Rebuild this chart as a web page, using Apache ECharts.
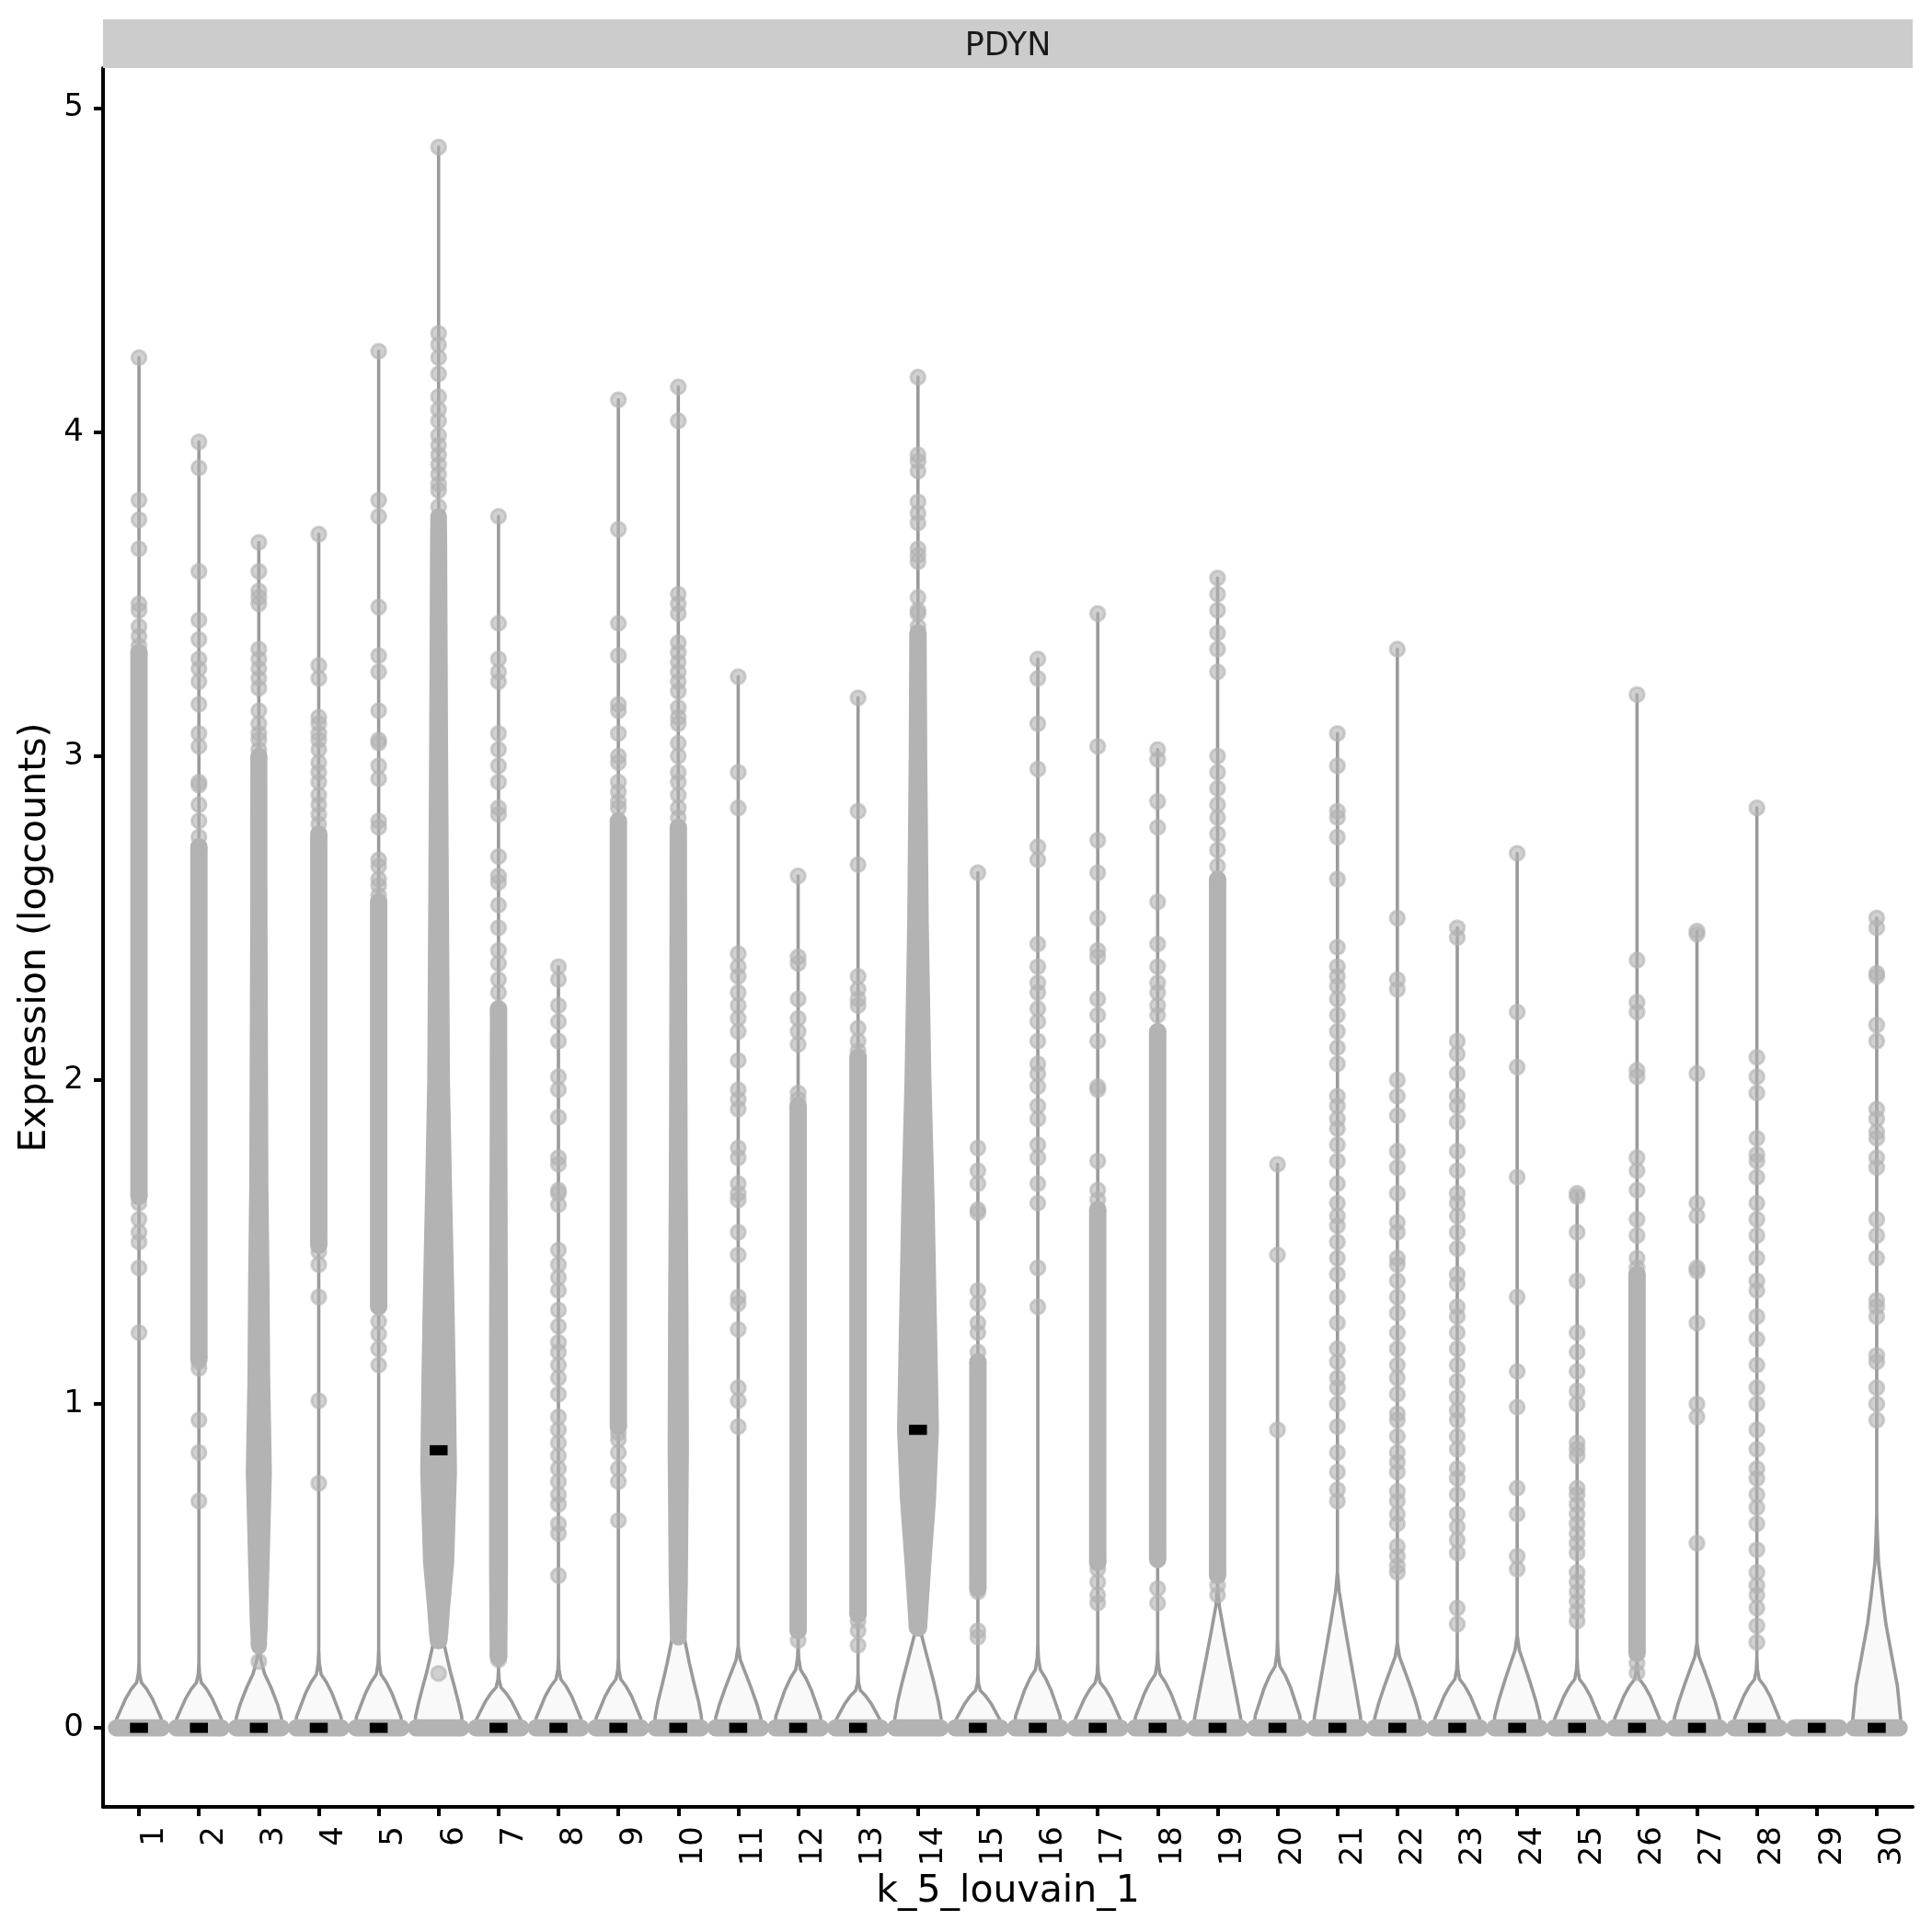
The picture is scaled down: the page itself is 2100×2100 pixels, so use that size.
<!DOCTYPE html>
<html><head><meta charset="utf-8">
<script src="https://cdn.jsdelivr.net/npm/echarts@6/dist/echarts.min.js"></script>
<style>html,body{margin:0;padding:0;background:#fff}#c{width:2100px;height:2100px}</style>
</head><body><div id="c"></div><script>
// ---------------- DATA ----------------
const categories = ['1','2','3','4','5','6','7','8','9','10','11','12','13','14','15','16','17','18','19','20','21','22','23','24','25','26','27','28','29','30'];
const yTicks = [0, 1, 2, 3, 4, 5];
const stripLabel = 'PDYN';
const xTitle = 'k_5_louvain_1';
const yTitle = 'Expression (logcounts)';

// median expression per cluster (black bars)
const medians = [0,0,0,0,0,0.857,0,0,0,0,0,0,0,0.92,0,0,0,0,0,0,0,0,0,0,0,0,0,0,0,0];

// individually visible non-zero cells (logcounts) per cluster
const cellValues = [
 [4.23,3.79,3.73,3.64,3.47,3.45,3.40,3.37,3.34,1.62,1.57,1.53,1.50,1.42,1.22],
 [3.97,3.89,3.57,3.42,3.36,3.30,3.27,3.23,3.16,3.07,3.03,2.92,2.91,2.85,2.80,2.75,1.13,1.11,0.95,0.85,0.70],
 [3.66,3.57,3.51,3.49,3.47,3.33,3.30,3.27,3.24,3.21,3.14,3.10,3.07,3.05,3.02,0.26,0.205],
 [3.685,3.28,3.24,3.12,3.10,3.07,3.05,3.02,2.98,2.95,2.92,2.88,2.85,2.82,2.79,1.47,1.43,1.33,1.01,0.755],
 [4.25,3.79,3.74,3.46,3.31,3.26,3.14,3.05,3.04,2.97,2.93,2.80,2.78,2.68,2.66,2.62,2.60,2.57,1.255,1.216,1.17,1.12],
 [4.88,4.305,4.27,4.23,4.18,4.11,4.07,4.035,3.99,3.96,3.93,3.90,3.87,3.84,3.82,3.77,0.27,0.168],
 [3.74,3.41,3.30,3.26,3.23,3.07,3.02,2.97,2.92,2.84,2.82,2.69,2.63,2.61,2.54,2.47,2.40,2.36,2.31,2.27,2.20,0.23,0.21],
 [2.35,2.31,2.23,2.18,2.12,2.01,1.97,1.885,1.76,1.74,1.66,1.65,1.615,1.475,1.43,1.39,1.35,1.29,1.24,1.19,1.16,1.12,1.08,1.03,0.96,0.92,0.88,0.84,0.80,0.76,0.72,0.69,0.63,0.60,0.47],
 [4.10,3.70,3.41,3.31,3.16,3.14,3.07,3.00,2.98,2.92,2.89,2.86,2.84,0.91,0.89,0.85,0.80,0.76,0.64],
 [4.14,4.035,3.50,3.47,3.44,3.35,3.32,3.29,3.26,3.23,3.20,3.15,3.12,3.10,3.04,3.00,2.95,2.92,2.88,2.84,2.81,0.30],
 [3.245,2.95,2.84,2.39,2.35,2.32,2.27,2.23,2.19,2.15,2.06,1.97,1.94,1.91,1.79,1.76,1.68,1.65,1.63,1.53,1.46,1.33,1.31,1.23,1.05,1.01,0.93],
 [2.63,2.38,2.36,2.25,2.19,2.15,2.11,1.96,1.94,0.27],
 [3.18,2.83,2.665,2.32,2.28,2.25,2.23,2.16,2.12,2.09,0.33,0.30,0.255],
 [4.17,3.93,3.91,3.88,3.785,3.75,3.72,3.64,3.62,3.60,3.49,3.45,3.44,3.40,0.31],
 [2.64,1.79,1.72,1.68,1.60,1.59,1.35,1.31,1.25,1.22,1.16,0.42,0.30,0.28],
 [3.30,3.24,3.10,2.96,2.72,2.68,2.42,2.35,2.30,2.27,2.22,2.18,2.12,2.05,2.02,1.98,1.92,1.88,1.80,1.76,1.68,1.62,1.42,1.30],
 [3.44,3.03,2.74,2.64,2.50,2.40,2.38,2.25,2.20,2.12,1.98,1.97,1.75,1.66,1.63,0.49,0.45,0.41,0.385],
 [3.02,2.99,2.86,2.78,2.55,2.42,2.35,2.30,2.27,2.23,2.20,0.43,0.385],
 [3.55,3.50,3.45,3.38,3.33,3.26,3.00,2.95,2.90,2.85,2.81,2.76,2.71,2.66,0.44,0.41],
 [1.74,1.46,0.92],
 [3.07,2.97,2.83,2.81,2.75,2.62,2.41,2.35,2.32,2.29,2.25,2.20,2.15,2.10,2.05,1.95,1.92,1.88,1.85,1.80,1.75,1.68,1.62,1.58,1.55,1.50,1.45,1.40,1.33,1.25,1.17,1.13,1.08,1.05,1.00,0.93,0.85,0.79,0.735,0.70],
 [3.33,2.50,2.31,2.28,2.00,1.95,1.89,1.78,1.73,1.65,1.56,1.53,1.45,1.43,1.38,1.33,1.28,1.22,1.17,1.12,1.08,1.03,0.97,0.95,0.90,0.85,0.82,0.79,0.73,0.70,0.66,0.63,0.56,0.53,0.50,0.48],
 [2.47,2.44,2.12,2.08,2.02,1.95,1.92,1.87,1.78,1.72,1.65,1.62,1.58,1.53,1.48,1.40,1.37,1.30,1.27,1.22,1.17,1.12,1.07,1.02,0.98,0.95,0.90,0.86,0.80,0.77,0.72,0.66,0.62,0.58,0.54,0.37,0.32],
 [2.70,2.21,2.04,1.70,1.33,1.10,0.99,0.74,0.66,0.53,0.49],
 [1.65,1.64,1.53,1.38,1.22,1.16,1.10,1.04,1.00,0.88,0.86,0.84,0.74,0.72,0.69,0.66,0.63,0.60,0.57,0.54,0.48,0.45,0.42,0.39,0.36,0.33],
 [3.19,2.37,2.24,2.21,2.03,2.01,1.76,1.72,1.66,1.57,1.52,1.45,1.42,0.20,0.17],
 [2.46,2.45,2.02,1.62,1.58,1.42,1.41,1.25,1.00,0.96,0.57],
 [2.84,2.07,2.01,1.96,1.82,1.77,1.75,1.70,1.62,1.57,1.52,1.45,1.38,1.35,1.27,1.20,1.12,1.05,1.00,0.92,0.86,0.80,0.77,0.72,0.68,0.63,0.55,0.48,0.44,0.41,0.37,0.315,0.264],
 [],
 [2.50,2.47,2.33,2.32,2.17,2.12,1.91,1.88,1.84,1.82,1.76,1.73,1.57,1.52,1.45,1.32,1.30,1.27,1.15,1.13,1.05,1.00,0.95]
];

// densely packed cell runs: [value, half-width in category units]
const denseRuns = [
 [[[1.64,0.145],[3.32,0.145]]],
 [[[1.14,0.145],[2.72,0.145]]],
 [[[0.25,0.13],[0.32,0.15],[0.51,0.18],[0.79,0.218],[1.08,0.19],[1.36,0.18],[1.68,0.16],[2.49,0.145],[3.0,0.142]]],
 [[[1.49,0.145],[2.76,0.145]]],
 [[[1.30,0.145],[2.55,0.145]]],
 [[[0.27,0.15],[0.30,0.165],[0.366,0.19],[0.51,0.26],[0.79,0.307],[1.08,0.287],[1.36,0.26],[1.68,0.223],[2.0,0.19],[2.49,0.175],[3.04,0.158],[3.66,0.143],[3.74,0.138]]],
 [[[0.22,0.148],[0.5,0.158],[1.2,0.158],[1.9,0.147],[2.22,0.145]]],
 [],
 [[[0.93,0.145],[2.80,0.145]]],
 [[[0.28,0.14],[0.45,0.16],[0.86,0.178],[1.3,0.17],[1.68,0.158],[2.2,0.15],[2.78,0.145]]],
 [],
 [[[0.30,0.145],[1.92,0.145]]],
 [[[0.35,0.146],[2.07,0.146]]],
 [[[0.31,0.155],[0.385,0.18],[0.51,0.225],[0.70,0.30],[0.92,0.35],[1.17,0.325],[1.64,0.276],[2.0,0.225],[2.49,0.18],[3.0,0.155],[3.38,0.145]]],
 [[[0.43,0.145],[1.13,0.145]]],
 [],
 [[[0.51,0.145],[1.60,0.145]]],
 [[[0.52,0.145],[2.15,0.145]]],
 [[[0.47,0.145],[2.62,0.145]]],
 [],[],[],[],[],[],
 [[[0.23,0.145],[1.40,0.145]]],
 [],[],[],[]
];

// violin outline near zero: [value, half-width in category units]
const violinNecks = [
 [[0,0.385],[0.028,0.372],[0.056,0.305],[0.091,0.22],[0.119,0.13],[0.14,0.04],[0.168,0.01],[0.203,0]],
 [[0,0.385],[0.028,0.372],[0.056,0.305],[0.091,0.22],[0.119,0.13],[0.14,0.04],[0.168,0.01],[0.203,0]],
 [[0,0.388],[0.032,0.375],[0.074,0.31],[0.126,0.2],[0.167,0.095],[0.21,0.035],[0.252,0]],
 [[0,0.385],[0.033,0.372],[0.066,0.305],[0.107,0.22],[0.14,0.13],[0.165,0.04],[0.198,0.01],[0.239,0]],
 [[0,0.385],[0.033,0.372],[0.066,0.305],[0.107,0.22],[0.14,0.13],[0.165,0.04],[0.198,0.01],[0.239,0]],
 [[0,0.39],[0.035,0.385],[0.08,0.33],[0.13,0.26],[0.167,0.205],[0.21,0.15],[0.26,0.09],[0.3,0.05],[0.36,0]],
 [[0,0.385],[0.025,0.372],[0.05,0.305],[0.081,0.22],[0.106,0.13],[0.125,0.04],[0.15,0.01],[0.181,0]],
 [[0,0.385],[0.03,0.372],[0.06,0.305],[0.098,0.22],[0.128,0.13],[0.15,0.04],[0.18,0.01],[0.218,0]],
 [[0,0.385],[0.03,0.372],[0.06,0.305],[0.098,0.22],[0.128,0.13],[0.15,0.04],[0.18,0.01],[0.218,0]],
 [[0,0.39],[0.035,0.385],[0.08,0.34],[0.14,0.26],[0.2,0.185],[0.26,0.12],[0.32,0.06],[0.4,0]],
 [[0,0.388],[0.032,0.375],[0.074,0.31],[0.126,0.21],[0.172,0.115],[0.21,0.035],[0.252,0]],
 [[0,0.385],[0.036,0.372],[0.072,0.305],[0.117,0.22],[0.153,0.13],[0.18,0.04],[0.216,0.01],[0.261,0]],
 [[0,0.385],[0.023,0.372],[0.046,0.305],[0.075,0.22],[0.098,0.13],[0.115,0.04],[0.138,0.01],[0.167,0]],
 [[0,0.39],[0.03,0.385],[0.08,0.34],[0.14,0.265],[0.2,0.18],[0.25,0.11],[0.29,0.055],[0.34,0.02],[0.4,0]],
 [[0,0.385],[0.023,0.372],[0.046,0.305],[0.075,0.22],[0.098,0.13],[0.115,0.04],[0.138,0.01],[0.167,0]],
 [[0,0.385],[0.036,0.372],[0.072,0.305],[0.117,0.22],[0.153,0.13],[0.18,0.04],[0.216,0.01],[0.261,0]],
 [[0,0.385],[0.028,0.372],[0.056,0.305],[0.091,0.22],[0.119,0.13],[0.14,0.04],[0.168,0.01],[0.203,0]],
 [[0,0.385],[0.033,0.372],[0.066,0.305],[0.107,0.22],[0.14,0.13],[0.165,0.04],[0.198,0.01],[0.239,0]],
 [[0,0.39],[0.03,0.385],[0.113,0.3],[0.206,0.2],[0.293,0.11],[0.375,0.03],[0.431,0]],
 [[0,0.385],[0.038,0.372],[0.076,0.305],[0.124,0.22],[0.162,0.13],[0.19,0.04],[0.228,0.01],[0.276,0]],
 [[0,0.39],[0.034,0.385],[0.126,0.3],[0.231,0.2],[0.328,0.11],[0.42,0.03],[0.483,0]],
 [[0,0.388],[0.033,0.375],[0.077,0.31],[0.132,0.21],[0.18,0.115],[0.22,0.035],[0.264,0]],
 [[0,0.385],[0.03,0.372],[0.06,0.305],[0.098,0.22],[0.128,0.13],[0.15,0.04],[0.18,0.01],[0.218,0]],
 [[0,0.388],[0.036,0.375],[0.084,0.31],[0.144,0.21],[0.197,0.115],[0.24,0.035],[0.288,0]],
 [[0,0.385],[0.03,0.372],[0.06,0.305],[0.098,0.22],[0.128,0.13],[0.15,0.04],[0.18,0.01],[0.218,0]],
 [[0,0.385],[0.03,0.372],[0.06,0.305],[0.098,0.22],[0.128,0.13],[0.15,0.04],[0.18,0.01],[0.218,0]],
 [[0,0.388],[0.033,0.375],[0.077,0.31],[0.132,0.21],[0.18,0.115],[0.22,0.035],[0.264,0]],
 [[0,0.385],[0.03,0.372],[0.06,0.305],[0.098,0.22],[0.128,0.13],[0.15,0.04],[0.18,0.01],[0.218,0]],
 [],
 [[0,0.4],[0.026,0.4],[0.13,0.345],[0.22,0.253],[0.32,0.154],[0.41,0.092],[0.51,0.03],[0.6,0.01],[0.66,0]]
];

// ---------------- STYLE ----------------
const FONT = 'DejaVu Sans';
const CLOUD = '#b3b3b3';
const PT_R = 9.3;          // px radius of a cell marker (incl. outline)
const ZERO_SPREAD = 0.375; // quasirandom spread of zero cells, category units

const maxOf = i => {
  let m = 0;
  cellValues[i].forEach(v => { if (v > m) m = v; });
  denseRuns[i].forEach(s => s.forEach(p => { if (p[0] > m) m = p[0]; }));
  return m;
};

function renderViolin(params, api) {
  const i = params.dataIndex, k = i + 1;
  const neck = violinNecks[i];
  if (!neck.length) return null;
  const top = maxOf(i);
  const prof = neck.slice();
  if (top > prof[prof.length - 1][0]) prof.push([top, 0]);
  const left = prof.map(p => api.coord([k - p[1], p[0]]));
  const right = prof.slice().reverse().map(p => api.coord([k + p[1], p[0]]));
  return { type: 'polygon', shape: { points: left.concat(right) },
    style: { fill: '#f9f9f9', stroke: '#9a9a9a', lineWidth: 3.6, lineJoin: 'round' } };
}

function renderDense(params, api) {
  const i = params.dataIndex, k = i + 1;
  const children = [];
  denseRuns[i].forEach(seg => {
    const left = seg.map(p => api.coord([k - p[1], p[0]]));
    const right = seg.slice().reverse().map(p => api.coord([k + p[1], p[0]]));
    children.push({ type: 'polygon', shape: { points: left.concat(right) }, style: { fill: CLOUD } });
    [seg[0], seg[seg.length - 1]].forEach(p => {
      const c = api.coord([k, p[0]]);
      const r = api.coord([k + p[1], p[0]])[0] - c[0];
      children.push({ type: 'circle', shape: { cx: c[0], cy: c[1], r: r }, style: { fill: CLOUD } });
    });
  });
  // zero-valued cells
  const c0 = api.coord([k, 0]);
  const xl = api.coord([k - ZERO_SPREAD, 0])[0] - PT_R;
  const xr = api.coord([k + ZERO_SPREAD, 0])[0] + PT_R;
  children.push({ type: 'rect', shape: { x: xl, y: c0[1] - PT_R, width: xr - xl, height: 2 * PT_R, r: PT_R }, style: { fill: CLOUD } });
  return { type: 'group', children: children };
}

function renderMedian(params, api) {
  const i = params.dataIndex, k = i + 1;
  const c = api.coord([k, medians[i]]);
  const w = api.size([0.3, 0])[0];
  return { type: 'rect', shape: { x: c[0] - w / 2, y: c[1] - 5.5, width: w, height: 11 }, style: { fill: '#000' } };
}

const scatterData = [];
cellValues.forEach((arr, i) => arr.forEach(v => scatterData.push([i + 1, v])));
const catData = categories.map((c, i) => [i + 1, medians[i]]);
const xTickVals = categories.map((c, i) => i + 1);

const GL = 112, GR = 2079, GT = 74, GB = 1964;
const chart = echarts.init(document.getElementById('c'), null, { renderer: 'canvas', width: 2100, height: 2100 });
chart.setOption({
  animation: false,
  backgroundColor: '#ffffff',
  grid: { left: GL, right: 2100 - GR, top: GT, bottom: 2100 - GB, containLabel: false },
  xAxis: {
    type: 'value', min: 0.4, max: 30.6,
    splitLine: { show: false },
    axisLine: { show: true, onZero: false, lineStyle: { color: '#000', width: 4 } },
    axisTick: { show: true, customValues: xTickVals, length: 10, lineStyle: { color: '#000', width: 4 } },
    axisLabel: { show: true, customValues: xTickVals, formatter: v => categories[Math.round(v) - 1],
      rotate: 90, margin: 21, fontSize: 34, color: '#000', fontFamily: FONT, verticalAlign: 'top' },
    name: xTitle, nameLocation: 'middle', nameGap: 70,
    nameTextStyle: { fontSize: 41, color: '#000', fontFamily: FONT }
  },
  yAxis: {
    type: 'value', min: -0.244, max: 5.124,
    splitLine: { show: false },
    axisLine: { show: true, onZero: false, lineStyle: { color: '#000', width: 4 } },
    axisTick: { show: true, customValues: yTicks, length: 10, lineStyle: { color: '#000', width: 4 } },
    axisLabel: { show: true, customValues: yTicks, margin: 21, fontSize: 34, color: '#000', fontFamily: FONT },
    name: yTitle, nameLocation: 'middle', nameGap: 48,
    nameTextStyle: { fontSize: 41, color: '#000', fontFamily: FONT }
  },
  graphic: [
    { type: 'rect', shape: { x: GL, y: 21, width: GR - GL, height: GT - 21 }, style: { fill: '#cccccc' }, z: 10 },
    { type: 'text', x: (GL + GR) / 2, y: 51, z: 11,
      style: { text: stripLabel, fontSize: 35, fontFamily: FONT, fill: '#1a1a1a', align: 'center', verticalAlign: 'middle' } }
  ],
  series: [
    { type: 'custom', name: 'violin', data: catData, encode: { x: 0, y: 1 }, renderItem: renderViolin, z: 1, clip: false },
    { type: 'custom', name: 'dense', data: catData, encode: { x: 0, y: 1 }, renderItem: renderDense, z: 2, clip: false },
    { type: 'scatter', name: 'cells', data: scatterData, symbol: 'circle', symbolSize: 2 * PT_R - 3, z: 3,
      itemStyle: { color: 'rgba(179,179,179,0.6)', borderColor: 'rgba(179,179,179,0.6)', borderWidth: 3, opacity: 1 } },
    { type: 'custom', name: 'median', data: catData, encode: { x: 0, y: 1 }, renderItem: renderMedian, z: 4, clip: false }
  ]
});
</script></body></html>
